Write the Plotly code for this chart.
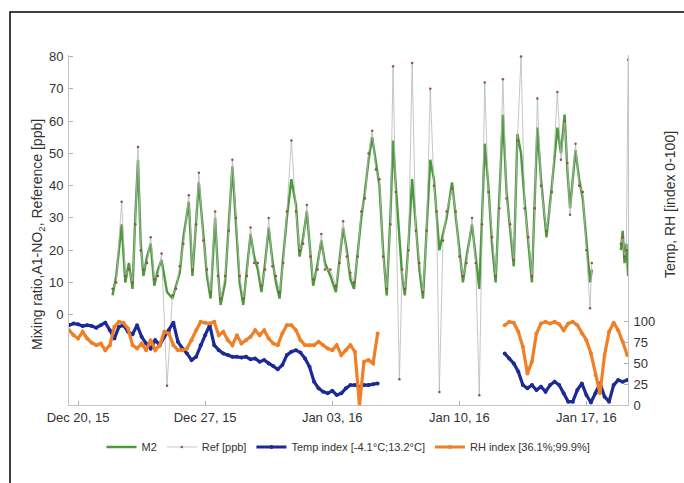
import pandas as pd
import plotly.graph_objects as go

# ---------------- data ----------------
# days since 2015-12-20 00:00
m2_day = [1.9,2.1,2.4,2.6,2.8,3.0,3.15,3.3,3.45,3.6,3.8,4.0,4.2,4.4,4.6,4.9,5.2,5.4,5.6,5.8,
          6.1,6.3,6.5,6.65,6.9,7.1,7.3,7.55,7.7,7.85,8.1,8.3,8.5,8.7,8.9,9.1,9.3,9.5,9.7,9.9,
          10.1,10.3,10.5,10.7,10.9,11.1,11.3,11.5,11.75,12.0,12.2,12.4,12.6,12.8,12.95,13.2,13.4,13.6,13.9,14.2,
          14.4,14.6,14.8,15.0,15.2,15.4,15.6,15.8,16.0,16.2,16.4,16.6,16.8,17.0,17.2,17.35,17.5,17.7,17.85,18.0,
          18.2,18.4,18.6,18.8,19.0,19.2,19.4,19.6,19.75,19.9,20.1,20.3,20.6,20.8,21.0,21.2,21.4,21.7,21.9,22.1,
          22.25,22.4,22.6,22.8,23.0,23.2,23.4,23.6,23.8,24.0,24.2,24.4,24.6,24.8,25.0,25.15,25.3,25.5,25.8,26.1,
          26.4,26.6,26.8,26.95,27.1,27.4,27.6,27.8,28.0,28.2,28.3,29.0,29.9,30.0,30.1,30.2,30.3]
m2_val = [6,12,28,10,16,8,30,48,22,12,18,22,9,14,17,7,5,9,13,24,
          35,12,30,41,25,12,5,30,14,3,10,28,46,28,10,3,14,25,18,14,
          7,16,27,17,10,5,18,30,42,34,18,24,32,20,9,16,23,16,12,7,
          18,27,20,11,8,20,30,38,48,55,47,40,20,6,30,54,40,25,12,6,
          22,42,28,14,5,28,48,42,30,20,25,30,41,30,20,10,18,28,18,8,
          30,53,40,22,10,35,62,38,26,15,56,50,35,22,10,35,58,42,24,40,
          58,50,62,45,33,51,42,36,22,10,14,None,20,26,16,22,12]
ref_val = [8,10,35,12,14,10,28,52,20,14,16,24,11,12,19,-22,6,8,15,22,
           37,14,28,44,23,14,7,32,12,5,12,26,48,30,12,5,12,27,16,16,
           9,14,30,15,12,7,16,32,54,32,20,22,34,18,11,14,25,14,14,9,
           16,29,18,13,10,18,32,36,50,57,45,42,18,8,28,77,38,-20,14,8,
           20,78,26,16,7,26,70,40,32,-24,23,32,39,32,18,12,16,30,16,-25,
           28,72,38,24,12,33,73,36,28,17,54,80,33,24,12,33,67,40,26,38,
           69,48,60,47,31,53,40,38,20,2,16,None,22,24,18,20,79]

# 6-hourly indices, two recording periods
seg1_start, seg1_end = "2015-12-19 12:00", "2016-01-05 12:00"
seg2_start, seg2_end = "2016-01-12 12:00", "2016-01-19 06:00"
temp_seg1 = [96,98,97,95,96,95,93,96,99,90,80,94,96,88,85,96,82,74,68,78,
             72,82,90,99,76,68,62,54,58,72,84,96,72,66,62,60,58,58,57,58,
             55,56,52,54,50,47,43,48,60,64,66,63,56,46,28,20,16,14,17,12,
             14,20,24,24,22,24,24,25,26]
rh_seg1 = [90,84,80,88,80,75,72,74,66,72,94,100,99,92,72,68,74,66,78,66,
           72,88,86,72,66,66,68,78,90,100,99,98,100,84,88,78,72,84,74,78,
           82,90,84,90,80,74,72,86,96,96,90,78,72,72,72,76,72,68,66,72,
           60,66,72,64,0,52,54,50,86]
temp_seg2 = [62,56,50,40,24,20,24,18,22,16,24,28,24,14,4,4,18,26,12,3,
             14,26,10,4,24,30,28,30]
rh_seg2 = [96,100,99,88,70,38,52,86,98,100,98,100,97,90,98,100,96,86,78,62,
           36,14,60,88,99,90,76,60]

x_ticks = ["2015-12-20", "2015-12-27", "2016-01-03", "2016-01-10", "2016-01-17"]
left_ticks = [0, 10, 20, 30, 40, 50, 60, 70, 80]
right_ticks = [0, 25, 50, 75, 100]

# ---------------- build ----------------
t0 = pd.Timestamp("2015-12-20")
m2_time = [t0 + pd.Timedelta(days=d) for d in m2_day]
s1 = list(pd.date_range(seg1_start, seg1_end, freq="6h"))
s2 = list(pd.date_range(seg2_start, seg2_end, freq="6h"))
tr_time = s1 + [None] + s2
temp_all = temp_seg1 + [None] + temp_seg2
rh_all = rh_seg1 + [None] + rh_seg2

FONT = "Liberation Sans, Arial, sans-serif"
TXT = "#333333"
fig = go.Figure()

fig.add_trace(go.Scatter(x=m2_time, y=m2_val, name="M2", mode="lines",
                         line=dict(color="#4b9a3b", width=2.4), connectgaps=False))
fig.add_trace(go.Scatter(x=m2_time, y=ref_val, name="Ref [ppb]", mode="lines+markers",
                         line=dict(color="#b8b8b8", width=0.8),
                         marker=dict(color="#9a5040", size=2.5), connectgaps=False))
fig.add_trace(go.Scatter(x=tr_time, y=temp_all, name="Temp index [-4.1°C;13.2°C]",
                         mode="lines+markers", yaxis="y2",
                         line=dict(color="#1c2a96", width=3.2),
                         marker=dict(color="#1c2a96", size=4), connectgaps=False))
fig.add_trace(go.Scatter(x=tr_time, y=rh_all, name="RH index [36.1%;99.9%]",
                         mode="lines+markers", yaxis="y2",
                         line=dict(color="#f07f26", width=3.2),
                         marker=dict(color="#f07f26", size=4), connectgaps=False))

axis_common = dict(showline=True, linecolor="#c4c4c4", linewidth=1, ticks="inside",
                   ticklen=4, tickcolor="#b0b0b0", showgrid=False, zeroline=False,
                   automargin=False,
                   tickfont=dict(family=FONT, size=13, color=TXT))

fig.update_layout(
    width=684, height=483,
    paper_bgcolor="white", plot_bgcolor="white",
    margin=dict(l=69, r=56, t=55, b=78),
    showlegend=True,
    legend=dict(orientation="h", x=0.5, xanchor="center", y=(405 - 447) / 350, yanchor="middle",
                font=dict(family=FONT, size=11, color=TXT),
                bgcolor="rgba(0,0,0,0)", itemwidth=30, tracegroupgap=0),
    xaxis=dict(type="date", range=["2015-12-19 12:00", "2016-01-19 07:00"],
               tickvals=x_ticks, tickformat="%b %d, %y", ticklabelstandoff=0, **axis_common),
    yaxis=dict(range=[-28, 80.5], tickvals=left_ticks, ticklabelstandoff=2, **axis_common),
    yaxis2=dict(range=[0, 421], tickvals=right_ticks, overlaying="y", side="right",
                ticklabelstandoff=2, **axis_common),
    font=dict(family=FONT, color=TXT),
)

fig.add_annotation(text="Mixing ratio,A1-NO<sub>2</sub>, Reference [ppb]", textangle=-90,
                   xref="paper", yref="paper", x=(38 - 69) / 559, y=(405 - 235) / 350,
                   xanchor="center", yanchor="middle",
                   showarrow=False, font=dict(family=FONT, size=14, color=TXT))
fig.add_annotation(text="Temp, RH [index 0-100]", textangle=-90,
                   xref="paper", yref="paper", x=(670 - 69) / 559, y=(405 - 205) / 350,
                   xanchor="center", yanchor="middle",
                   showarrow=False, font=dict(family=FONT, size=14, color=TXT))

# outer frame
fig.add_shape(type="rect", xref="paper", yref="paper",
              x0=(10 - 69) / 559, x1=(720 - 69) / 559,
              y0=(405 - 520) / 350, y1=(405 - 12) / 350,
              line=dict(color="black", width=1.5), layer="below")

fig.write_html("out.html", config={"displayModeBar": False},
               post_script="document.body.style.margin='0';")
